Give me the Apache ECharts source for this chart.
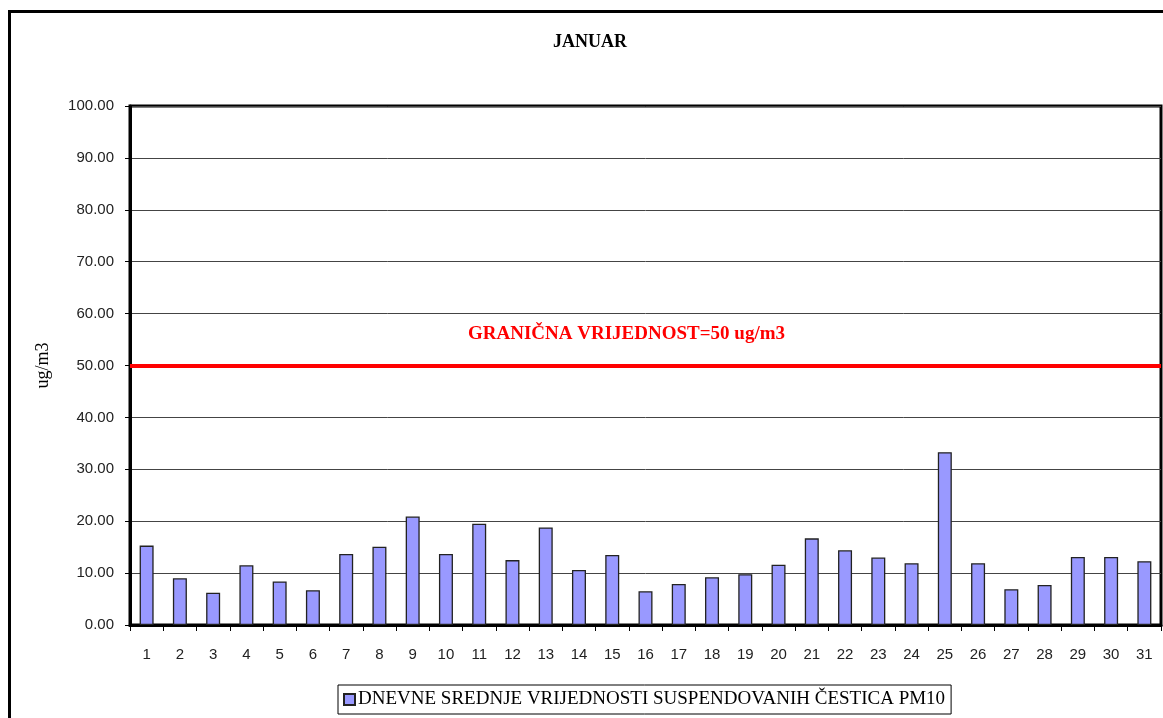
<!DOCTYPE html>
<html>
<head>
<meta charset="utf-8">
<script src="https://cdn.jsdelivr.net/npm/echarts@6/dist/echarts.min.js"></script>
<style>
html,body{margin:0;padding:0;background:#fff;}
#chart{width:1163px;height:718px;}
</style>
</head>
<body>
<div id="chart"></div>
<script>
const days = ["1","2","3","4","5","6","7","8","9","10","11","12","13","14","15","16","17","18","19","20","21","22","23","24","25","26","27","28","29","30","31"];
const pm10 = [15.3, 9.0, 6.2, 11.5, 8.4, 6.7, 13.7, 15.1, 20.9, 13.7, 19.5, 12.5, 18.8, 10.6, 13.5, 6.5, 7.9, 9.2, 9.8, 11.6, 16.7, 14.4, 13.0, 11.9, 33.3, 11.9, 6.9, 7.7, 13.1, 13.1, 12.3];
const limitValue = 50;
const titleText = "JANUAR";
const seriesName = "DNEVNE SREDNJE VRIJEDNOSTI SUSPENDOVANIH ČESTICA PM10";
const limitLabel = "GRANIČNA VRIJEDNOST=50 ug/m3";
const yAxisName = "ug/m3";

const SERIF = "'Liberation Serif', 'DejaVu Serif', serif";
const SANS = "'Liberation Sans', 'DejaVu Sans', sans-serif";

const chart = echarts.init(document.getElementById('chart'), null, {renderer: 'canvas'});
chart.setOption({
  animation: false,
  backgroundColor: '#ffffff',
  title: {
    text: titleText,
    left: 553,
    top: 33,
    padding: 0,
    textStyle: {fontFamily: SERIF, fontWeight: 'bold', fontSize: 18, color: '#000'}
  },
  graphic: [{
    type: 'rect',
    shape: {x: 9.5, y: 11.5, width: 1300, height: 900},
    style: {fill: 'none', stroke: '#000', lineWidth: 3},
    silent: true,
    z: -1
  }],
  legend: {
    left: 338,
    top: 685,
    data: [{name: seriesName, icon: 'rect'}],
    itemWidth: 11,
    itemHeight: 11,
    itemGap: 4,
    padding: [5, 6, 5, 5],
    borderColor: '#000',
    borderWidth: 1,
    textStyle: {fontFamily: SERIF, fontSize: 19, color: '#000', padding: [0,0,0,-2]}
  },
  grid: {
    left: 130, right: 2, top: 106, bottom: 93,
    show: true,
    borderColor: '#000',
    borderWidth: 3,
    containLabel: false
  },
  xAxis: {
    type: 'category',
    data: days,
    boundaryGap: true,
    axisLine: {lineStyle: {color: '#000', width: 3}},
    axisTick: {show: true, length: 6, lineStyle: {color: '#000', width: 1}},
    axisLabel: {fontFamily: SANS, fontSize: 15, color: '#222', margin: 22, interval: 0},
    splitLine: {show: false}
  },
  yAxis: {
    type: 'value',
    min: 0, max: 100, interval: 10,
    name: yAxisName,
    nameLocation: 'middle',
    nameGap: 78,
    nameRotate: 90,
    nameTextStyle: {fontFamily: SERIF, fontSize: 18, color: '#000'},
    axisLine: {show: true, lineStyle: {color: '#000', width: 3}},
    axisTick: {show: true, length: 5, lineStyle: {color: '#000', width: 1}},
    axisLabel: {fontFamily: SANS, fontSize: 15, color: '#222', margin: 16, formatter: v => v.toFixed(2)},
    splitLine: {show: true, lineStyle: {color: '#444', width: 1}}
  },
  series: [{
    name: seriesName,
    type: 'bar',
    data: pm10,
    barWidth: 14,
    itemStyle: {color: '#9999FF', borderColor: '#222', borderWidth: 1.3},
    markLine: {
      silent: true,
      symbol: ['none', 'none'],
      data: [{yAxis: limitValue}],
      lineStyle: {color: '#FF0000', width: 4, type: 'solid'},
      label: {
        show: true,
        position: 'insideMiddleTop',
        distance: 22,
        formatter: limitLabel,
        fontFamily: SERIF,
        fontWeight: 'bold',
        fontSize: 19,
        color: '#FF0000',
        padding: [0, 38, 0, 0]
      },
      z: 5
    }
  }]
});
</script>
</body>
</html>
